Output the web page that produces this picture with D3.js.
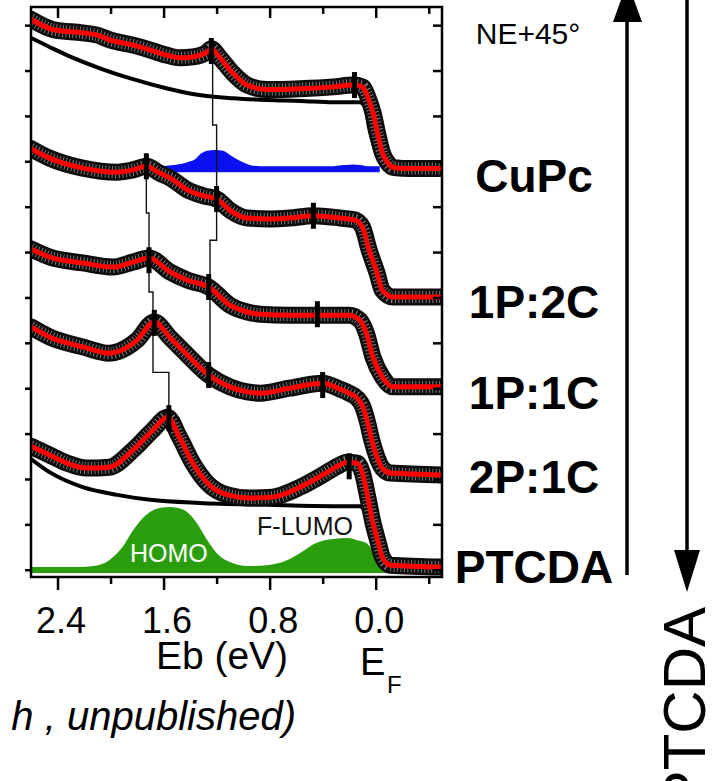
<!DOCTYPE html>
<html><head><meta charset="utf-8">
<script src="https://cdn.jsdelivr.net/npm/d3@7"></script>
<style>
html,body{margin:0;padding:0;background:#fff;}
svg{display:block;font-family:"Liberation Sans",Arial,Helvetica,sans-serif;}
</style></head>
<body>
<svg id="chart" width="712" height="781"></svg>
<script>
// Photoemission spectra, [binding energy (eV), intensity (arb. units, stacked offset)]
const cupc = [[2.60,12.13],[2.43,11.90],[2.21,11.83],[2.10,11.78],[2.00,11.67],[1.83,11.56],[1.70,11.45],[1.58,11.34],[1.48,11.28],[1.38,11.30],[1.27,11.41],[1.24,11.48],[1.18,11.30],[1.08,10.95],[0.97,10.68],[0.82,10.58],[0.57,10.60],[0.32,10.64],[0.17,10.68],[0.10,10.64],[0.06,10.42],[0.02,10.07],[-0.02,9.54],[-0.05,9.19],[-0.09,8.97],[-0.14,8.86],[-0.26,8.84],[-0.50,8.84]];
const cupcBackground = [[2.60,11.72],[2.46,11.52],[2.33,11.34],[2.08,11.05],[1.83,10.81],[1.58,10.61],[1.33,10.46],[1.08,10.39],[0.82,10.35],[0.57,10.33],[0.32,10.30],[0.12,10.30],[0.08,10.19],[0.05,9.74],[0.01,9.30],[-0.03,9.01],[-0.07,8.86],[-0.11,8.82],[-0.50,8.82]];
const cupcComponent = [[1.64,8.89],[1.52,8.92],[1.42,8.98],[1.36,9.05],[1.33,9.14],[1.27,9.23],[1.21,9.25],[1.15,9.23],[1.10,9.14],[1.05,9.05],[1.00,8.98],[0.95,8.92],[0.87,8.89],[0.35,8.89],[0.23,8.92],[0.17,8.93],[0.12,8.92],[0.05,8.89],[-0.03,8.89]];
const cupcComponentBase = 8.76;
const p1c2 = [[2.60,9.28],[2.46,9.07],[2.21,8.85],[1.95,8.76],[1.83,8.81],[1.73,8.89],[1.63,8.74],[1.55,8.63],[1.42,8.37],[1.30,8.24],[1.20,8.17],[1.10,7.92],[0.97,7.75],[0.80,7.73],[0.65,7.75],[0.47,7.80],[0.27,7.75],[0.16,7.71],[0.10,7.55],[0.05,7.05],[-0.01,6.54],[-0.05,6.16],[-0.13,6.01],[-0.50,6.01]];
const p1c1 = [[2.60,7.07],[2.46,6.89],[2.21,6.76],[1.98,6.67],[1.83,6.78],[1.71,6.87],[1.55,6.56],[1.42,6.38],[1.26,6.23],[1.10,5.83],[0.97,5.68],[0.87,5.63],[0.65,5.61],[0.44,5.61],[0.20,5.61],[0.12,5.50],[0.07,5.21],[0.02,4.68],[-0.05,4.25],[-0.13,4.03],[-0.50,4.03]];
const p2c1 = [[2.60,5.35],[2.46,5.13],[2.21,4.91],[2.01,4.77],[1.93,4.82],[1.80,5.06],[1.67,5.46],[1.55,5.11],[1.42,4.73],[1.26,4.29],[1.10,4.03],[0.97,3.92],[0.87,3.89],[0.65,4.00],[0.40,4.11],[0.27,3.98],[0.20,3.89],[0.14,3.78],[0.10,3.61],[0.06,3.23],[0.03,2.86],[-0.01,2.48],[-0.05,2.24],[-0.11,2.13],[-0.50,2.09]];
const ptcda = [[2.60,2.72],[2.46,2.53],[2.33,2.35],[2.18,2.24],[2.01,2.26],[1.83,2.64],[1.68,3.08],[1.57,3.36],[1.48,2.92],[1.38,2.35],[1.27,1.91],[1.12,1.65],[0.95,1.58],[0.78,1.60],[0.57,1.82],[0.40,2.09],[0.27,2.31],[0.22,2.37],[0.14,2.35],[0.10,2.13],[0.06,1.60],[0.02,1.03],[-0.02,0.59],[-0.05,0.28],[-0.11,0.10],[-0.50,0.06]];
const ptcdaBackground = [[2.60,2.44],[2.46,2.15],[2.21,1.82],[1.95,1.65],[1.70,1.54],[1.33,1.47],[0.82,1.43],[0.32,1.40],[0.12,1.40],[0.08,1.27],[0.05,0.87],[0.01,0.50],[-0.03,0.28],[-0.07,0.15],[-0.11,0.08],[-0.50,0.06]];
const ptcdaComponents = [[2.60,0.06],[2.23,0.06],[2.13,0.08],[2.01,0.21],[1.91,0.50],[1.83,0.87],[1.73,1.21],[1.63,1.36],[1.55,1.38],[1.45,1.32],[1.35,1.03],[1.27,0.65],[1.20,0.37],[1.08,0.15],[0.95,0.08],[0.82,0.10],[0.67,0.21],[0.57,0.37],[0.45,0.59],[0.32,0.68],[0.21,0.70],[0.14,0.65],[0.07,0.59],[0.02,0.43],[-0.05,0.28],[-0.13,0.17],[-0.20,0.10],[-0.29,0.06],[-0.50,0.06]];
const ptcdaComponentsBase = -0.07;

// Fitted peak positions, [Eb, intensity]
const peakMarks = [[1.24,11.43],[0.16,10.68],[1.73,8.89],[1.20,8.17],[0.47,7.80],[1.71,6.82],[1.26,6.23],[0.44,5.63],[1.67,5.44],[1.26,4.29],[0.40,4.07],[1.56,3.34],[0.20,2.28]];
// Guides following the HOMO positions through the series
const cupcHomoTrack = [[1.23,11.43],[1.23,9.80],[1.20,9.80],[1.20,7.26],[1.25,7.26],[1.25,4.29]];
const ptcdaHomoTrack = [[1.73,8.89],[1.73,7.86],[1.71,7.86],[1.71,6.12],[1.68,6.12],[1.68,4.35],[1.56,4.35],[1.56,3.34]];

const xMajorTicks = [2.4, 1.6, 0.8, 0.0];
const xMinorTicks = [2.0, 1.2, 0.4, -0.4];
const yTicks = [0,1,2,3,4,5,6,7,8,9,10,11,12];
const sampleLabels = ["CuPc", "1P:2C", "1P:1C", "2P:1C", "PTCDA"];

(function draw() {
  const svg = d3.select("#chart");
  const pLeft = 31, pRight = 442, pTop = 7, pBottom = 577;
  const x = d3.scaleLinear().domain([2.6, -0.5]).range([pLeft, pRight]);
  const y = d3.scaleLinear().domain([-0.16, 12.4]).range([pBottom, pTop]);

  svg.append("defs").append("clipPath").attr("id", "plot")
    .append("rect").attr("x", pLeft).attr("y", pTop).attr("width", pRight - pLeft).attr("height", pBottom - pTop);

  const plot = svg.append("g").attr("clip-path", "url(#plot)");
  const line = d3.line().x(d => x(d[0])).y(d => y(d[1])).curve(d3.curveMonotoneX);
  const straight = d3.line().x(d => x(d[0])).y(d => y(d[1]));
  const areaOf = base => d3.area().x(d => x(d[0])).y0(y(base)).y1(d => y(d[1])).curve(d3.curveMonotoneX);

  // fitted components
  plot.append("path").datum(cupcComponent).attr("d", areaOf(cupcComponentBase)).attr("fill", "#0a10f0");
  plot.append("path").datum(ptcdaComponents).attr("d", areaOf(ptcdaComponentsBase)).attr("fill", "#2a9d0c");

  // backgrounds
  [cupcBackground, ptcdaBackground].forEach(bg => {
    plot.append("path").datum(bg).attr("d", line)
      .attr("fill", "none").attr("stroke", "#000").attr("stroke-width", 4);
  });

  // HOMO guides
  [cupcHomoTrack, ptcdaHomoTrack].forEach(t => {
    plot.append("path").datum(t).attr("d", straight)
      .attr("fill", "none").attr("stroke", "#111").attr("stroke-width", 1.4);
  });

  // measured spectra (dense open circles) and fits
  const spectra = [cupc, p1c2, p1c1, p2c1, ptcda];
  spectra.forEach(s => {
    plot.append("path").datum(s).attr("d", line)
      .attr("fill", "none").attr("stroke", "#0d0d0d").attr("stroke-width", 17)
      .attr("stroke-linejoin", "round").attr("stroke-linecap", "round");
    plot.append("path").datum(s).attr("d", line)
      .attr("fill", "none").attr("stroke", "#fff").attr("stroke-width", 12)
      .attr("stroke-dasharray", "0.8 2.6").attr("opacity", 0.55);
  });
  spectra.forEach(s => {
    plot.append("path").datum(s).attr("d", line)
      .attr("fill", "none").attr("stroke", "#ff0000").attr("stroke-width", 5)
      .attr("stroke-linejoin", "round");
  });

  // peak position markers
  plot.selectAll("rect.peak").data(peakMarks).join("rect").attr("class", "peak")
    .attr("x", d => x(d[0]) - 2.5).attr("y", d => y(d[1]) - 13)
    .attr("width", 5).attr("height", 26).attr("fill", "#000");

  // component labels
  svg.append("text").attr("x", x(1.56)).attr("y", 562).attr("text-anchor", "middle")
    .attr("font-size", 25).attr("fill", "#fff").text("HOMO");
  svg.append("text").attr("x", 305).attr("y", 535).attr("text-anchor", "middle")
    .attr("font-size", 25).attr("fill", "#111").text("F-LUMO");

  // axes
  function styleAxis(g) {
    g.select(".domain").remove();
    g.selectAll(".tick line").attr("stroke", "#000").attr("stroke-width", 2.5);
  }
  svg.append("g").attr("transform", `translate(0,${pBottom})`)
    .call(d3.axisBottom(x).tickValues(xMajorTicks).tickSize(13).tickFormat(d3.format(".1f")))
    .call(styleAxis)
    .call(g => g.selectAll("text").attr("y", 56).attr("dy", 0).attr("dx", 3)
      .attr("font-size", 36).attr("font-family", "Liberation Sans, Arial, sans-serif").attr("fill", "#000"));
  svg.append("g").attr("transform", `translate(0,${pBottom})`)
    .call(d3.axisBottom(x).tickValues(xMinorTicks).tickSize(7).tickFormat(""))
    .call(styleAxis);
  svg.append("g").attr("transform", `translate(0,${pTop})`)
    .call(d3.axisTop(x).tickValues(xMajorTicks).tickSize(-11).tickFormat(""))
    .call(styleAxis);
  svg.append("g").attr("transform", `translate(0,${pTop})`)
    .call(d3.axisTop(x).tickValues(xMinorTicks).tickSize(-7).tickFormat(""))
    .call(styleAxis);
  svg.append("g").attr("transform", `translate(${pLeft},0)`)
    .call(d3.axisLeft(y).tickValues(yTicks).tickSize(6).tickFormat(""))
    .call(styleAxis);
  svg.append("g").attr("transform", `translate(${pRight},0)`)
    .call(d3.axisRight(y).tickValues(yTicks).tickSize(-9).tickFormat(""))
    .call(styleAxis);

  svg.append("rect").attr("x", pLeft).attr("y", pTop).attr("width", pRight - pLeft).attr("height", pBottom - pTop)
    .attr("fill", "none").attr("stroke", "#000").attr("stroke-width", 2.5);

  // axis titles
  svg.append("text").attr("x", 222).attr("y", 669).attr("text-anchor", "middle")
    .attr("font-size", 39).text("Eb (eV)");
  const ef = svg.append("text").attr("x", 360).attr("y", 675).attr("font-size", 38);
  ef.append("tspan").text("E");
  ef.append("tspan").attr("x", 387).attr("y", 693).attr("font-size", 24).text("F");

  // series labels
  svg.append("text").attr("x", 528).attr("y", 44).attr("text-anchor", "middle")
    .attr("font-size", 30).text("NE+45°");
  const labelBaselines = [192, 318, 409, 493, 583];
  svg.selectAll("text.sample").data(sampleLabels).join("text").attr("class", "sample")
    .attr("x", 534).attr("y", (d, i) => labelBaselines[i]).attr("text-anchor", "middle")
    .attr("font-size", 46).attr("font-weight", "bold").text(d => d);

  // deposition-order arrows
  svg.append("line").attr("x1", 627).attr("x2", 627).attr("y1", 20).attr("y2", 575)
    .attr("stroke", "#000").attr("stroke-width", 3.5);
  svg.append("path").attr("d", "M613,22 L642,22 L627.5,-18 Z").attr("fill", "#000");
  svg.append("line").attr("x1", 687).attr("x2", 687).attr("y1", 0).attr("y2", 552)
    .attr("stroke", "#000").attr("stroke-width", 3.5);
  svg.append("path").attr("d", "M674,550 L700,550 L687,592 Z").attr("fill", "#000");
  svg.append("text").attr("transform", "translate(705,607) rotate(-90)")
    .attr("text-anchor", "end").attr("font-size", 60).text("PTCDA");

  // source note
  svg.append("text").attr("x", 296).attr("y", 730).attr("text-anchor", "end")
    .attr("font-size", 40).attr("font-style", "italic").text("h , unpublished)");
})();
</script>
</body></html>
